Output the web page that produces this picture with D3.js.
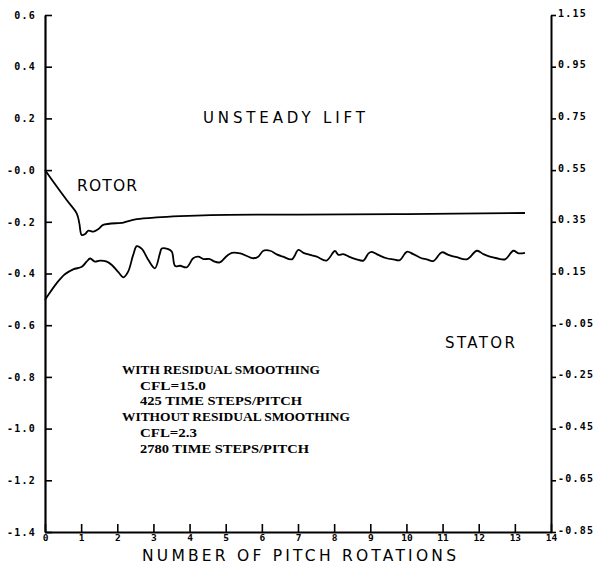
<!DOCTYPE html>
<html>
<head>
<meta charset="utf-8">
<script src="https://cdn.jsdelivr.net/npm/d3@7/dist/d3.min.js"></script>
<style>
  html, body { margin: 0; padding: 0; background: #fff; }
  svg { display: block; }
</style>
</head>
<body>
<div id="chart"></div>
<script>
// ---------------- data ----------------
const xTickValues = [0,1,2,3,4,5,6,7,8,9,10,11,12,13,14];
const xTickLabels = ["0","1","2","3","4","5","6","7","8","9","10","11","12","13","14"];

const leftTickValues = [0.6,0.4,0.2,0.0,-0.2,-0.4,-0.6,-0.8,-1.0,-1.2,-1.4];
const leftTickLabels = ["0.6","0.4","0.2","-0.0","-0.2","-0.4","-0.6","-0.8","-1.0","-1.2","-1.4"];

const rightTickValues = [1.15,0.95,0.75,0.55,0.35,0.15,-0.05,-0.25,-0.45,-0.65,-0.85];
const rightTickLabels = ["1.15","0.95","0.75","0.55","0.35","0.15","-0.05","-0.25","-0.45","-0.65","-0.85"];

// Rotor unsteady lift (left axis)
const rotorX = [0, 0.23, 0.60, 0.88, 0.95, 1.015, 1.11, 1.20, 1.34, 1.48, 1.61, 2.17, 2.31, 2.54, 3.09, 3.73, 4.57, 7.0, 10.0, 13.28];
const rotorY = [0.00, -0.045, -0.116, -0.168, -0.206, -0.251, -0.247, -0.234, -0.238, -0.228, -0.212, -0.203, -0.197, -0.190, -0.183, -0.178, -0.174, -0.172, -0.170, -0.166];

// Stator unsteady lift (right axis)
const statorX = [0, 0.09, 0.32, 0.55, 0.78, 1.02, 1.15, 1.25, 1.38, 1.52, 1.71, 1.85, 2.03, 2.17, 2.30, 2.44, 2.54, 2.68, 2.86, 3.04,
  3.18, 3.23, 3.41, 3.51, 3.60, 3.74, 3.92, 4.10, 4.24, 4.38, 4.56, 4.66, 4.84, 5.03, 5.17, 5.40, 5.76, 5.90, 6.04, 6.23,
  6.41, 6.59, 6.83, 7.01, 7.15, 7.33, 7.52, 7.79, 8.02, 8.12, 8.25, 8.44, 8.62, 8.81, 8.95, 9.04, 9.22, 9.45, 9.64, 9.82,
  10.01, 10.19, 10.42, 10.56, 10.74, 10.98, 11.16, 11.39, 11.67, 11.95, 12.13, 12.31, 12.50, 12.73, 12.96, 13.10, 13.28];
const statorY = [0.048, 0.067, 0.112, 0.147, 0.166, 0.176, 0.196, 0.208, 0.196, 0.200, 0.196, 0.183, 0.155, 0.135, 0.157, 0.222, 0.256, 0.245, 0.202, 0.170,
  0.228, 0.247, 0.244, 0.234, 0.179, 0.180, 0.174, 0.209, 0.215, 0.206, 0.206, 0.198, 0.193, 0.218, 0.230, 0.228, 0.209, 0.215, 0.238, 0.238,
  0.224, 0.215, 0.205, 0.241, 0.230, 0.222, 0.215, 0.200, 0.237, 0.222, 0.225, 0.213, 0.205, 0.200, 0.228, 0.234, 0.222, 0.209, 0.205, 0.202,
  0.234, 0.225, 0.209, 0.205, 0.198, 0.232, 0.222, 0.213, 0.205, 0.238, 0.225, 0.215, 0.209, 0.205, 0.238, 0.228, 0.230];

const chartTitle = "UNSTEADY LIFT";
const xAxisTitle = "NUMBER OF PITCH ROTATIONS";
const rotorLabel = "ROTOR";
const statorLabel = "STATOR";
const legendLines = [
  {text: "WITH RESIDUAL SMOOTHING", indent: 0},
  {text: "CFL=15.0", indent: 1},
  {text: "425 TIME STEPS/PITCH", indent: 1},
  {text: "WITHOUT RESIDUAL SMOOTHING", indent: 0},
  {text: "CFL=2.3", indent: 1},
  {text: "2780 TIME STEPS/PITCH", indent: 1}
];

// ---------------- layout ----------------
const W = 594, H = 567;
const plot = {left: 45, right: 551, top: 15, bottom: 532};

const svg = d3.select("#chart").append("svg")
  .attr("width", W).attr("height", H)
  .style("background", "#fff");

const x = d3.scaleLinear().domain([0, 14]).range([plot.left, plot.right]);
const yL = d3.scaleLinear().domain([-1.4, 0.6]).range([plot.bottom, plot.top]);
const yR = d3.scaleLinear().domain([-0.85, 1.15]).range([plot.bottom, plot.top]);

const tickFont = "'DejaVu Sans Mono', monospace";

function styleAxis(g, lw) {
  g.select(".domain").attr("stroke", "#000").attr("stroke-width", lw);
  g.selectAll(".tick line").attr("stroke", "#000").attr("stroke-width", 1.6);
  g.selectAll(".tick text")
    .attr("fill", "#000")
    .style("font-family", tickFont)
    .style("font-weight", "bold")
    .style("font-size", "10px")
    .style("letter-spacing", "1.2px");
}

// left axis (ticks point inward)
const gL = svg.append("g").attr("transform", `translate(${plot.left},0)`)
  .call(d3.axisLeft(yL).tickValues(leftTickValues)
    .tickFormat((d, i) => leftTickLabels[i])
    .tickSizeInner(-7).tickSizeOuter(0).tickPadding(9));
styleAxis(gL, 2.2);

// right axis (ticks point outward)
const gR = svg.append("g").attr("transform", `translate(${plot.right},0)`)
  .call(d3.axisRight(yR).tickValues(rightTickValues)
    .tickFormat((d, i) => rightTickLabels[i])
    .tickSizeInner(5).tickSizeOuter(0).tickPadding(2));
styleAxis(gR, 2);
gR.selectAll(".tick text").attr("dy", "0.1em");

// bottom axis (ticks point up)
const gB = svg.append("g").attr("transform", `translate(0,${plot.bottom})`)
  .call(d3.axisBottom(x).tickValues(xTickValues)
    .tickFormat((d, i) => xTickLabels[i])
    .tickSizeInner(-8).tickSizeOuter(0).tickPadding(2));
styleAxis(gB, 2);
gB.selectAll(".tick text").style("letter-spacing", "0px").style("font-size", "9.5px");

// ---------------- curves ----------------
const rotorData = rotorX.map((v, i) => [v, rotorY[i]]);
const statorData = statorX.map((v, i) => [v, statorY[i]]);

const lineL = d3.line().x(d => x(d[0])).y(d => yL(d[1])).curve(d3.curveCatmullRom.alpha(0.5));
const lineR = d3.line().x(d => x(d[0])).y(d => yR(d[1])).curve(d3.curveCatmullRom.alpha(0.5));

svg.append("path").datum(rotorData)
  .attr("d", lineL).attr("fill", "none").attr("stroke", "#000").attr("stroke-width", 1.8);
svg.append("path").datum(statorData)
  .attr("d", lineR).attr("fill", "none").attr("stroke", "#000").attr("stroke-width", 1.8);

// ---------------- text ----------------
const plotterFont = "'DejaVu Sans', sans-serif";
function plotterText(txt, x0, baseline, len, size) {
  svg.append("text")
    .attr("x", x0).attr("y", baseline)
    .attr("textLength", len).attr("lengthAdjust", "spacing")
    .style("font-family", plotterFont)
    .style("font-size", size + "px")
    .attr("fill", "#000")
    .text(txt);
}
plotterText(chartTitle, 203, 123, 162, 15);
plotterText(rotorLabel, 77, 191, 60, 15.5);
plotterText(statorLabel, 445, 348, 70, 15);
plotterText(xAxisTitle, 142, 561, 314, 15.5);

const legendX = 122, legendIndent = 18, legendTop = 374, legendStep = 15.7;
const legendWidths = [198, 66, 162, 228, 57, 169];
legendLines.forEach((l, i) => {
  svg.append("text")
    .attr("x", legendX + l.indent * legendIndent)
    .attr("y", legendTop + i * legendStep)
    .attr("textLength", legendWidths[i]).attr("lengthAdjust", "spacingAndGlyphs")
    .style("font-family", "'Liberation Serif', 'Times New Roman', serif")
    .style("font-weight", "bold")
    .style("font-size", "11.5px")
    .attr("fill", "#000")
    .text(l.text);
});
</script>
</body>
</html>
